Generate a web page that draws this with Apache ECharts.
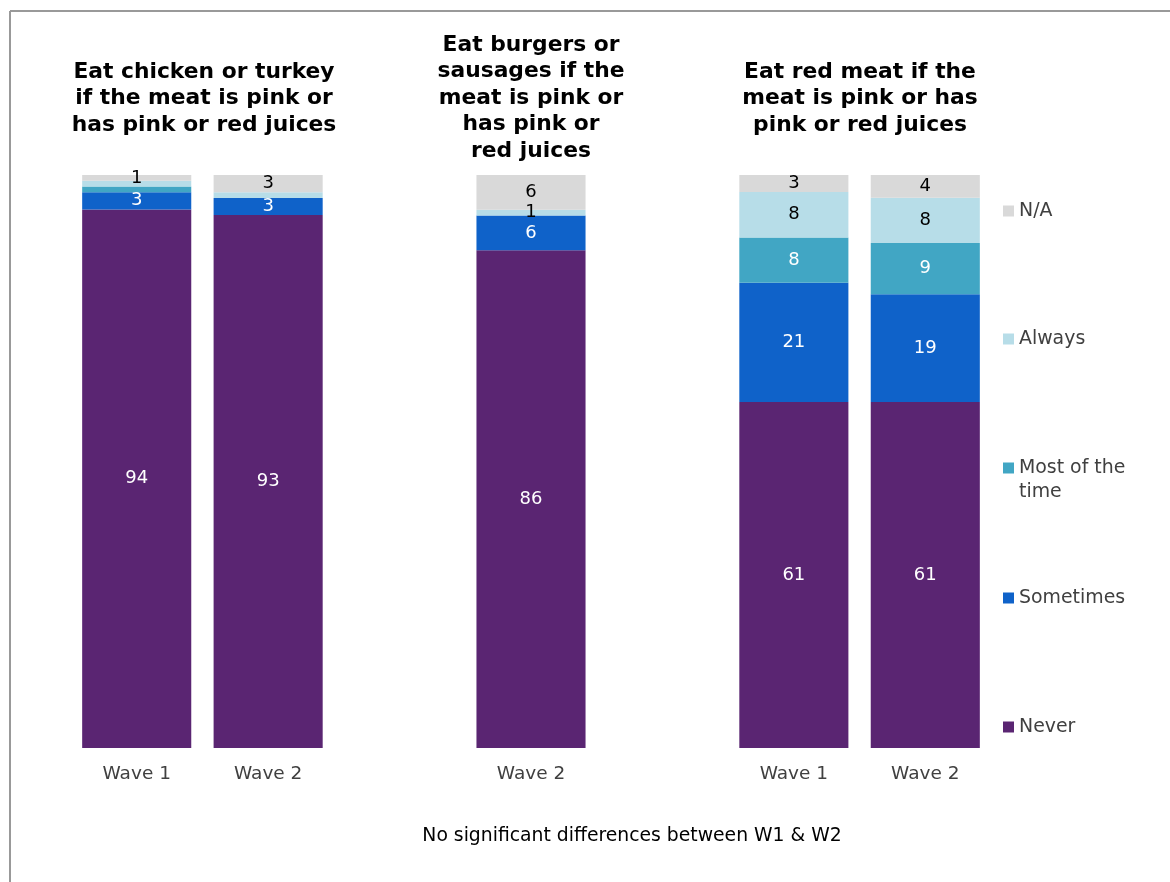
<!DOCTYPE html>
<html>
<head>
<meta charset="utf-8">
<script src="https://cdn.jsdelivr.net/npm/echarts@6/dist/echarts.min.js"></script>
<style>html,body{margin:0;padding:0;background:#fff;}#chart{width:1170px;height:882px;}</style>
</head>
<body>
<div id="chart"></div>
<script>
// Category slots (blank slots separate the three charts)
const categories = ['Wave 1', 'Wave 2', '', 'Wave 2', '', 'Wave 1', 'Wave 2'];
const seriesNames = ['Never', 'Sometimes', 'Most of the time', 'Always', 'N/A'];
const neverVals     = [94, 93, null, 86, null, 61, 61];
const sometimesVals = [3, 3, null, 6, null, 21, 19];
const mostVals      = [1, 0, null, 0, null, 8, 9];
const alwaysVals    = [1, 1, null, 1, null, 8, 8];
const naVals        = [1, 3, null, 6, null, 3, 4];
const chartTitles = [
  'Eat chicken or turkey\nif the meat is pink or\nhas pink or red juices',
  'Eat burgers or\nsausages if the\nmeat is pink or\nhas pink or\nred juices',
  'Eat red meat if the\nmeat is pink or has\npink or red juices'
];
const footnote = 'No significant differences between W1 & W2';
// labels that the original chart does not show: [slot index, series name]
const hiddenLabels = [[0, 'Most of the time'], [0, 'Always'], [1, 'Always']];

const allVals = [neverVals, sometimesVals, mostVals, alwaysVals, naVals];
const colors = ['#5A2572', '#0F62C9', '#41A6C4', '#B7DDE8', '#D9D9D9'];
const labelColors = ['#ffffff', '#ffffff', '#ffffff', '#000000', '#000000'];
const totals = categories.map((c, i) => allVals.reduce((s, arr) => s + (arr[i] || 0), 0));
const FONT = '"DejaVu Sans", Verdana, sans-serif';

const series = seriesNames.map((name, si) => ({
  name,
  type: 'bar',
  stack: 'total',
  barCategoryGap: '17%',
  itemStyle: { color: colors[si] },
  label: {
    show: true,
    position: 'inside',
    color: labelColors[si],
    fontFamily: FONT,
    fontSize: 18,
    formatter: p => {
      if (p.data.raw == null || p.data.raw === 0) return '';
      if (hiddenLabels.some(h => h[0] === p.dataIndex && h[1] === name)) return '';
      return String(p.data.raw);
    }
  },
  emphasis: { disabled: true },
  data: allVals[si].map((v, i) => v == null ? { value: null, raw: null } : { value: v / totals[i] * 100, raw: v })
}));

const legendCenters = { 'N/A': 211, 'Always': 339, 'Most of the time': 480, 'Sometimes': 598, 'Never': 727 };
const legends = ['N/A', 'Always', 'Most of the time', 'Sometimes', 'Never'].map(n => {
  const multi = n === 'Most of the time';
  const lh = 24;
  const h = multi ? lh * 3 : lh;
  return {
    data: [n],
    left: 1003,
    top: (multi ? 468 : legendCenters[n]) - h / 2,
    padding: 0,
    itemWidth: 11,
    itemHeight: 11,
    icon: 'rect',
    selectedMode: false,
    formatter: multi ? '\nMost of the\ntime' : '{name}',
    textStyle: { fontFamily: FONT, fontSize: 18.9, color: '#404040', lineHeight: lh }
  };
});

const titleCenters = [204, 531, 860];
const titleTops = [59, 32, 59];
const graphics = chartTitles.map((t, i) => ({
  type: 'text',
  x: titleCenters[i],
  y: titleTops[i],
  style: {
    text: t,
    textAlign: 'center',
    textVerticalAlign: 'top',
    fontFamily: FONT,
    fontWeight: 'bold',
    fontSize: 21.8,
    lineHeight: 26.5,
    fill: '#000000'
  }
}));
graphics.push({
  type: 'text', x: 632, y: 836,
  style: { text: footnote, textAlign: 'center', textVerticalAlign: 'middle', fontFamily: FONT, fontSize: 18.8, fill: '#000000' }
});
graphics.push({ type: 'line', shape: { x1: 10, y1: 11, x2: 1170, y2: 11 }, style: { stroke: '#999999', lineWidth: 2 } });
graphics.push({ type: 'line', shape: { x1: 10, y1: 11, x2: 10, y2: 882 }, style: { stroke: '#999999', lineWidth: 2 } });

const chart = echarts.init(document.getElementById('chart'), null, { renderer: 'canvas' });
chart.setOption({
  backgroundColor: '#ffffff',
  animation: false,
  grid: { left: 71, right: 179, top: 175, bottom: 134, containLabel: false },
  xAxis: {
    type: 'category',
    data: categories,
    axisLine: { show: false },
    axisTick: { show: false },
    axisLabel: { fontFamily: FONT, fontSize: 18.5, color: '#404040', margin: 17 }
  },
  yAxis: { type: 'value', min: 0, max: 100, show: false, splitLine: { show: false } },
  legend: legends,
  series,
  graphic: graphics
});
</script>
</body>
</html>
